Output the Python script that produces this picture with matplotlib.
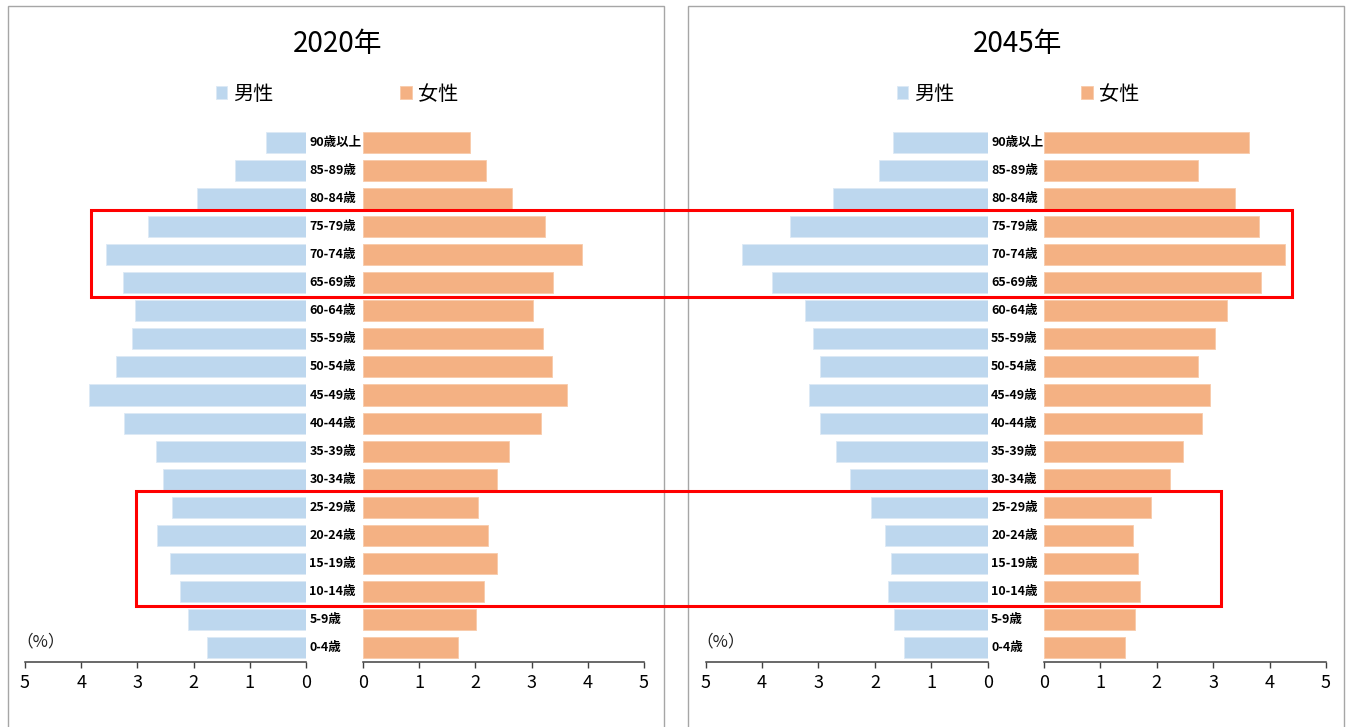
import matplotlib
matplotlib.use("Agg")
import matplotlib.pyplot as plt
from matplotlib.patches import Rectangle
from matplotlib.transforms import blended_transform_factory
import numpy as np

plt.rcParams['font.family'] = ['Noto Sans CJK JP', 'DejaVu Sans']

# ---- data (bottom to top) ----
ages = ['0-4歳', '5-9歳', '10-14歳', '15-19歳', '20-24歳', '25-29歳', '30-34歳',
        '35-39歳', '40-44歳', '45-49歳', '50-54歳', '55-59歳', '60-64歳',
        '65-69歳', '70-74歳', '75-79歳', '80-84歳', '85-89歳', '90歳以上']
male_2020 = [1.76, 2.10, 2.25, 2.42, 2.65, 2.39, 2.55, 2.67, 3.23, 3.86, 3.38,
             3.09, 3.05, 3.26, 3.55, 2.81, 1.94, 1.27, 0.71]
female_2020 = [1.69, 2.01, 2.15, 2.38, 2.22, 2.04, 2.38, 2.59, 3.16, 3.63, 3.36,
               3.20, 3.03, 3.38, 3.90, 3.24, 2.66, 2.18, 1.90]
male_2045 = [1.49, 1.66, 1.76, 1.72, 1.82, 2.06, 2.44, 2.68, 2.97, 3.16, 2.98,
             3.10, 3.24, 3.82, 4.36, 3.50, 2.74, 1.93, 1.67]
female_2045 = [1.43, 1.61, 1.71, 1.67, 1.58, 1.89, 2.23, 2.46, 2.80, 2.95, 2.73,
               3.03, 3.24, 3.85, 4.27, 3.81, 3.38, 2.73, 3.64]
titles = ['2020年', '2045年']
legend_labels = ['男性', '女性']
xticks = [0, 1, 2, 3, 4, 5]
unit_label = '（%）'

MALE_C = '#BDD7EE'
FEMALE_C = '#F4B183'

W, H = 1349, 727
fig = plt.figure(figsize=(W / 100, H / 100), dpi=100)


def fx(px):
    return px / W


def fy(py):
    return 1 - py / H


y_bottom_px, y_top_px = 661.5, 128.5
ax_h = (y_bottom_px - y_top_px) / H

panels = [
    dict(title=titles[0], male=male_2020, female=female_2020,
         m_left=25, m_right=306, f_left=363, f_right=644,
         box=(8, 664), title_x=338, leg_x=337),
    dict(title=titles[1], male=male_2045, female=female_2045,
         m_left=705.6, m_right=987.7, f_left=1044, f_right=1326,
         box=(688, 1344), title_x=1018, leg_x=1018),
]

y = np.arange(len(ages))
axes_pairs = []
for p in panels:
    # panel border
    b0, b1 = p['box']
    fig.patches.append(Rectangle((fx(b0), -0.05), fx(b1 - b0), fy(5.7) + 0.05,
                                 transform=fig.transFigure, fill=False,
                                 edgecolor='#A6A6A6', linewidth=1.0, zorder=0))
    axm = fig.add_axes([fx(p['m_left']), fy(y_bottom_px),
                        fx(p['m_right'] - p['m_left']), ax_h])
    axf = fig.add_axes([fx(p['f_left']), fy(y_bottom_px),
                        fx(p['f_right'] - p['f_left']), ax_h])
    hm = axm.barh(y, p['male'], height=0.75, color=MALE_C, edgecolor='#DCE9F5',
                  linewidth=0.6, label=legend_labels[0])
    hf = axf.barh(y, p['female'], height=0.75, color=FEMALE_C, edgecolor='#F8CBAA',
                  linewidth=0.6, label=legend_labels[1])
    axm.set_xlim(5, 0)
    axf.set_xlim(0, 5)
    for ax in (axm, axf):
        ax.set_ylim(-0.5, 18.5)
        ax.set_facecolor('none')
        for s in ('top', 'left', 'right'):
            ax.spines[s].set_visible(False)
        ax.spines['bottom'].set_color('#404040')
        ax.spines['bottom'].set_linewidth(1.1)
        ax.set_yticks([])
        ax.set_xticks(xticks)
        ax.set_xticklabels([str(t) for t in xticks])
        ax.tick_params(axis='x', direction='out', length=4.5, width=1.0,
                       color='#404040', pad=4.5, labelsize=13)
    # category labels
    tr = blended_transform_factory(axm.transAxes, axm.transData)
    for yi, lab in zip(y, ages):
        axm.annotate(lab, xy=(1.0, yi), xycoords=tr, xytext=(2.5, 0),
                     textcoords='offset points', ha='left', va='center',
                     fontsize=9, fontweight='bold', color='black',
                     annotation_clip=False)
    # unit label
    axm.text(0.055, 0.2, unit_label, transform=tr, ha='center', va='center',
             fontsize=12, color='#222222')
    # title
    fig.text(fx(p['title_x']), fy(44), p['title'], ha='center', va='center',
             fontsize=20)
    # legend
    fig.legend(handles=[hm, hf], labels=legend_labels, loc='center',
               bbox_to_anchor=(fx(p['leg_x']), fy(94)), ncol=2, frameon=False,
               fontsize=14.5, handlelength=0.55, handleheight=0.6,
               handletextpad=0.3, columnspacing=6.3, borderpad=0)
    axes_pairs.append((axm, axf))

# red highlight rectangles spanning both panels
inv = fig.transFigure.inverted()


def to_fig(ax, xv, yv):
    return inv.transform(ax.transData.transform((xv, yv)))


highlights = [
    # (left value on 2020 male axis, right value on 2045 female axis, low row, high row)
    (3.83, 4.39, 13 - 0.52, 15 + 0.58),
    (3.02, 3.14, 2 - 0.52, 5 + 0.58),
]
for lv, rv, ylo, yhi in highlights:
    x0, y0 = to_fig(axes_pairs[0][0], lv, ylo)
    x1, y1 = to_fig(axes_pairs[1][1], rv, yhi)
    fig.patches.append(Rectangle((x0, y0), x1 - x0, y1 - y0,
                                 transform=fig.transFigure, fill=False,
                                 edgecolor='#FF0000', linewidth=2.2, zorder=10))

fig.savefig('out.png', dpi=100)
